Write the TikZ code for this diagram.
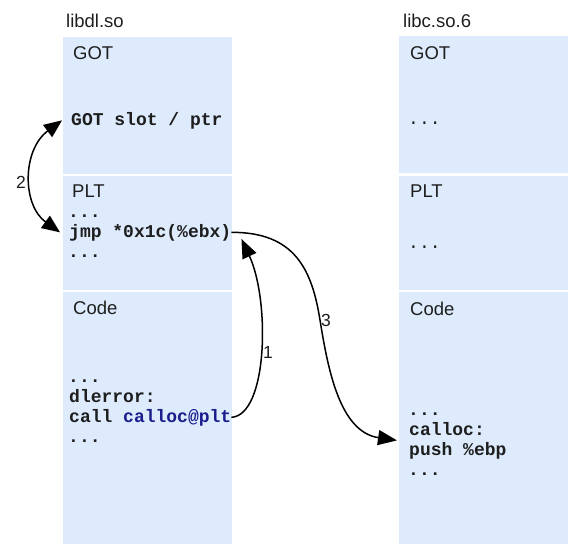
\documentclass[tikz,border=0pt]{standalone}
\usepackage{fontspec}
\setmainfont{Liberation Sans}
\setmonofont{Liberation Mono}
\usetikzlibrary{arrows.meta, positioning}
\definecolor{segfill}{RGB}{221,235,252}
\definecolor{txtgray}{RGB}{30,30,30}
\definecolor{symblue}{RGB}{28,28,140}

\begin{document}
\begin{tikzpicture}[x=1pt,y=-1pt]
\tikzstyle{segment}=[fill=segfill]
\tikzstyle{title}=[anchor=base west,inner sep=0pt,text=txtgray,font=\fontsize{18.5}{21}\selectfont]
\tikzstyle{asm}=[anchor=base west,inner sep=0pt,text=txtgray,font=\fontsize{18}{20}\selectfont\ttfamily\bfseries]
\tikzstyle{dots}=[anchor=base west,inner sep=0pt,text=txtgray,font=\fontsize{18}{20}\selectfont\ttfamily]
\tikzstyle{num}=[inner sep=0pt,text=txtgray,font=\fontsize{17.5}{20}\selectfont]
\tikzstyle{jump}=[-{Triangle[length=19pt,width=15pt]},line width=1.5pt]
\tikzstyle{swap}=[{Triangle[length=18pt,width=15pt]}-{Triangle[length=18pt,width=15pt]},line width=1.5pt]

\useasboundingbox (0,0) rectangle (568,544);

% segments
\fill[segment] (63,37) rectangle (232,174);
\fill[segment] (63,176) rectangle (232,290);
\fill[segment] (63,292) rectangle (232,544);
\fill[segment] (399,36) rectangle (568,173);
\fill[segment] (399,176) rectangle (568,290);
\fill[segment] (399,292) rectangle (568,544);

% libdl.so
\node[title] (dlname) at (66,27) {libdl.so};
\node[title] (dlgot) at (73,59) {GOT};
\node[asm] (gotslot) at (71,125) {GOT slot / ptr};
\node[title] (dlplt) at (72,197) {PLT};
\node[asm] (pltdots1) at (68,217) {...};
\node[asm] (jmpline) at (69,237) {jmp *0x1c(\%ebx)};
\node[asm] (pltdots2) at (68,257) {...};
\node[title] (dlcode) at (73,314) {Code};
\node[asm] (codedots1) at (68,382) {...};
\node[asm] (dlerror) at (69,402) {dlerror:};
\node[asm] (callline) at (69,422) {call \textcolor{symblue}{calloc@plt}};
\node[asm] (codedots2) at (68,442) {...};

% libc.so.6
\node[title] (cname) at (403,27) {libc.so.6};
\node[title] (cgot) at (410,59) {GOT};
\node[dots] (gotdots) at (408,124) {...};
\node[title] (cplt) at (410,197) {PLT};
\node[dots] (pltdots) at (408,248) {...};
\node[title] (ccode) at (410,315) {Code};
\node[asm] (ccodedots1) at (408,415) {...};
\node[asm] (callocline) at (409,435) {calloc:};
\node[asm] (pushline) at (409,455) {push \%ebp};
\node[asm] (ccodedots2) at (408,475) {...};

\coordinate (pushin) at ([xshift=-12pt,yshift=-5pt]callocline.south west);

\draw[swap] ([xshift=-9pt]gotslot.west) .. controls (22,150) and (22,205) .. ([xshift=-9pt]jmpline.west);
\draw[jump] (callline.east) .. controls (268,415) and (270,300) .. ([xshift=10pt,yshift=2pt]jmpline.south east);
\draw[jump] (jmpline.east) .. controls (295,232) and (312,270) .. (320,320)
  .. controls (328,370) and (340,432) .. (pushin);

\node[num] (n2) at (21,182) {2};
\node[num] (n1) at (268,352) {1};
\node[num] (n3) at (326,320) {3};
\end{tikzpicture}
\end{document}
